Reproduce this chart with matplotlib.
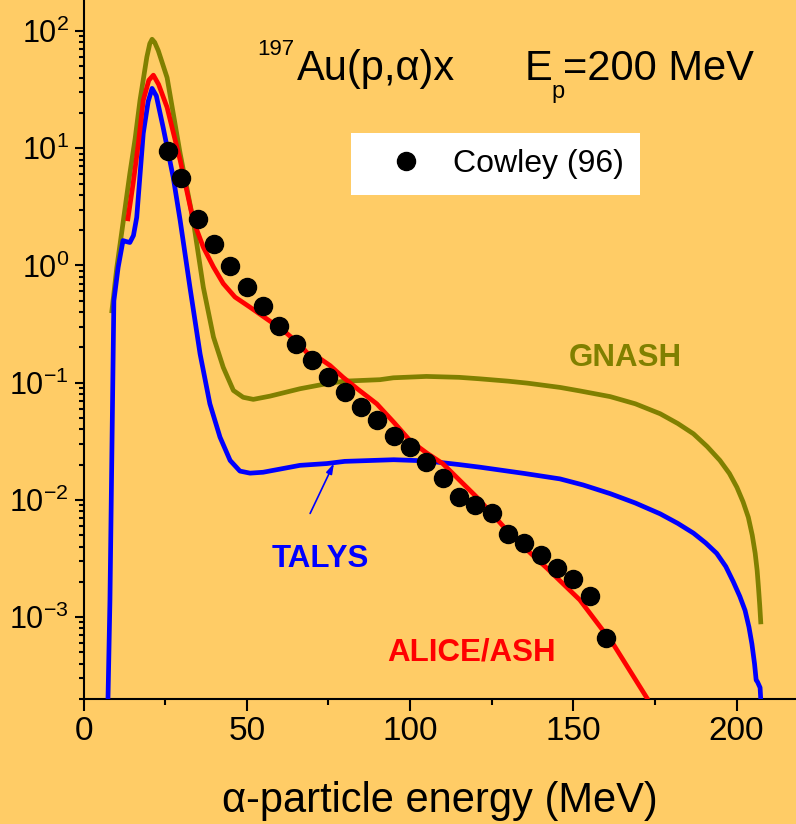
import numpy as np
import matplotlib
matplotlib.use("Agg")
import matplotlib.pyplot as plt
from matplotlib.ticker import MultipleLocator, LogLocator, NullFormatter, LogFormatterMathtext

plt.rcParams['font.family'] = ['Liberation Sans', 'DejaVu Sans']
plt.rcParams['mathtext.fontset'] = 'custom'
plt.rcParams['mathtext.rm'] = 'Liberation Sans'
plt.rcParams['mathtext.it'] = 'Liberation Sans:italic'
plt.rcParams['mathtext.bf'] = 'Liberation Sans:bold'

# ---------------- data ----------------
cowley_e = [26, 30, 35, 40, 45, 50, 55, 60, 65, 70, 75, 80, 85, 90, 95, 100, 105,
            110, 115, 120, 125, 130, 135, 140, 145, 150, 155, 160]
cowley_y = [9.4, 5.6, 2.5, 1.53, 0.98, 0.65, 0.45, 0.307, 0.214, 0.155, 0.112, 0.084,
            0.062, 0.048, 0.035, 0.028, 0.021, 0.0155, 0.0105, 0.0091, 0.0078, 0.0051,
            0.0043, 0.0034, 0.0026, 0.0021, 0.0015, 0.00066]

gnash_e = [8.7, 10.2, 11.8, 13.0, 14.2, 15.8, 17.3, 19.4, 20.3, 21.0, 21.8, 22.9, 25.6,
           29.6, 33.6, 36.7, 39.8, 42.8, 45.9, 48.9, 52.0, 57.1, 66.3, 74.5, 80,
           90.8, 94.9, 105, 115, 121, 130, 136, 146, 152, 161.3, 169, 176.6, 182, 186.8, 191,
           194.9, 197.8, 200.1, 202, 203.6, 204.8, 205.7, 206.3, 206.7, 207.1, 207.4]
gnash_y = [0.41, 0.96, 2.0, 3.5, 6.1, 12, 25.6, 60, 78, 85, 80, 68, 40,
           9.0, 2.42, 0.65, 0.245, 0.135, 0.0858, 0.075, 0.072, 0.0767, 0.0887, 0.098, 0.103,
           0.106, 0.11, 0.113, 0.111, 0.108, 0.103, 0.099, 0.091, 0.085, 0.076, 0.066, 0.0543,
           0.0448, 0.0366, 0.0285, 0.0217, 0.0168, 0.0128, 0.0096, 0.0071, 0.0050, 0.0035,
           0.0025, 0.0018, 0.00125, 0.00091]

talys_e = [7.5, 8.1, 9.3, 10.6, 12.1, 13.0, 14.2, 15.3, 16.3, 18.3, 19.8, 21.0, 22.3, 24.4,
           27.5, 29.6, 32.6, 35.7, 38.7, 41.8, 44.9, 47.9, 51.0, 55, 66.3, 74.5, 80, 95,
           105, 115, 121.4, 135, 145.9, 153, 161.3, 169, 176.6, 182, 186.8, 190.5, 193.9,
           196.7, 199, 201, 202.6, 203.8, 204.7, 205.5, 206.0, 206.4, 207.2, 207.4]
talys_y = [2e-4, 0.0014, 0.5, 0.96, 1.63, 1.6, 1.57, 1.8, 2.57, 13.4, 25, 32.4, 28, 15,
           5.6, 2.42, 0.65, 0.176, 0.066, 0.0343, 0.0217, 0.0176, 0.0169, 0.0172, 0.0197, 0.0204,
           0.0213, 0.022, 0.0215, 0.020, 0.019, 0.0168, 0.0151, 0.0134, 0.0113, 0.0094, 0.0076,
           0.0063, 0.0052, 0.0043, 0.0035, 0.0027, 0.0020, 0.0015, 0.00114, 0.00082, 0.00059,
           0.00040, 0.00029, 0.00028, 0.00025, 2e-4]

alice_e = [13.6, 15.2, 16.8, 18.3, 20.0, 21.4, 23.0, 25.6, 29.6, 33.6, 36.7, 39.8, 42.8,
           46.4, 51, 56.1, 61.2, 64.3, 66.3, 68.4, 71.5, 75.5, 79.5, 84, 89.8, 95, 100,
           105.2, 110, 120.5, 131.6, 142, 152, 162.2, 172.5]
alice_y = [2.5, 5.0, 11, 25.6, 38, 42, 35, 22.3, 7.9, 2.42, 1.43, 0.97, 0.70,
           0.537, 0.44, 0.35, 0.279, 0.235, 0.212, 0.18, 0.167, 0.14, 0.111, 0.088, 0.066,
           0.046, 0.032, 0.025, 0.0204, 0.0105, 0.0048, 0.0026, 0.0014, 0.00059, 0.000205]

x_ticks = [0, 50, 100, 150, 200]

BG = '#FFCC66'
OLIVE = '#808000'
BLUE = '#0000FF'
RED = '#FF0000'

W, H = 796, 824
fig = plt.figure(figsize=(W / 100, H / 100), dpi=100, facecolor=BG)
ax = fig.add_axes([83.5 / W, (H - 699) / H, (W - 83.5) / W, 699 / H])
ax.set_facecolor(BG)

LW = 3.4
ax.plot(gnash_e, gnash_y, color=OLIVE, lw=LW, solid_joinstyle='round', zorder=3)
ax.plot(talys_e, talys_y, color=BLUE, lw=LW, solid_joinstyle='round', zorder=3)
ax.plot(alice_e, alice_y, color=RED, lw=LW, solid_joinstyle='round', zorder=4)
pts, = ax.plot(cowley_e, cowley_y, 'o', color='black', ms=13, zorder=5, label='Cowley (96)')

ax.set_yscale('log')
ax.set_xlim(0, 218.2)
ax.set_ylim(2e-4, 10 ** (2 + 31 / 117.2))

ax.set_xticks(x_ticks)
ax.xaxis.set_minor_locator(MultipleLocator(25))
ax.yaxis.set_major_locator(LogLocator(base=10, numticks=20))
ax.yaxis.set_major_formatter(LogFormatterMathtext())
ax.yaxis.set_minor_locator(LogLocator(base=10, subs=np.arange(2, 10), numticks=100))
ax.yaxis.set_minor_formatter(NullFormatter())

for s in ['top', 'right']:
    ax.spines[s].set_visible(False)
for s in ['left', 'bottom']:
    ax.spines[s].set_linewidth(1.5)

ax.tick_params(axis='x', which='major', direction='out', length=8.6, width=1.5, pad=4, labelsize=24)
ax.tick_params(axis='x', which='minor', direction='out', length=4.3, width=1.5)
ax.tick_params(axis='y', which='major', direction='out', length=6.5, width=1.5, pad=4, labelsize=22)
ax.tick_params(axis='y', which='minor', direction='out', length=3.6, width=1.5)

ax.set_xlabel('\u03b1-particle energy (MeV)', fontsize=30, labelpad=24)

def fx(x):
    return x / W

def fy(y):
    return 1 - y / H

fig.text(fx(257), fy(55), '197', fontsize=16, va='baseline', ha='left')
fig.text(fx(297), fy(80), 'Au(p,\u03b1)x', fontsize=30, va='baseline', ha='left')
fig.text(fx(525), fy(80), 'E', fontsize=30, va='baseline', ha='left')
fig.text(fx(551), fy(98), 'p', fontsize=17, va='baseline', ha='left')
fig.text(fx(563), fy(80), '=200 MeV', fontsize=30, va='baseline', ha='left')

leg = ax.legend(handles=[pts], loc='upper left', bbox_to_anchor=(fx(351), fy(133)),
                bbox_transform=fig.transFigure, frameon=True, fancybox=False,
                facecolor='white', edgecolor='none', framealpha=1, fontsize=23,
                borderpad=0.5, handlelength=2.44, handletextpad=0.25, borderaxespad=0,
                numpoints=1)
leg.get_frame().set_linewidth(0)

ax.text(165.8, 0.140, 'GNASH', color=OLIVE, fontsize=22.5, fontweight='bold',
        ha='center', va='baseline')
ax.text(72.4, 0.00265, 'TALYS', color=BLUE, fontsize=22.5, fontweight='bold',
        ha='center', va='baseline')
ax.text(118.8, 4.27e-4, 'ALICE/ASH', color=RED, fontsize=22.5, fontweight='bold',
        ha='center', va='baseline')

ax.annotate('', xy=(76.7, 0.0205), xytext=(69.4, 0.00766),
            arrowprops=dict(arrowstyle='-|>,head_length=0.6,head_width=0.18',
                            color=BLUE, lw=1.2, shrinkA=0, shrinkB=0))

fig.savefig('out.png', dpi=100, facecolor=BG)
